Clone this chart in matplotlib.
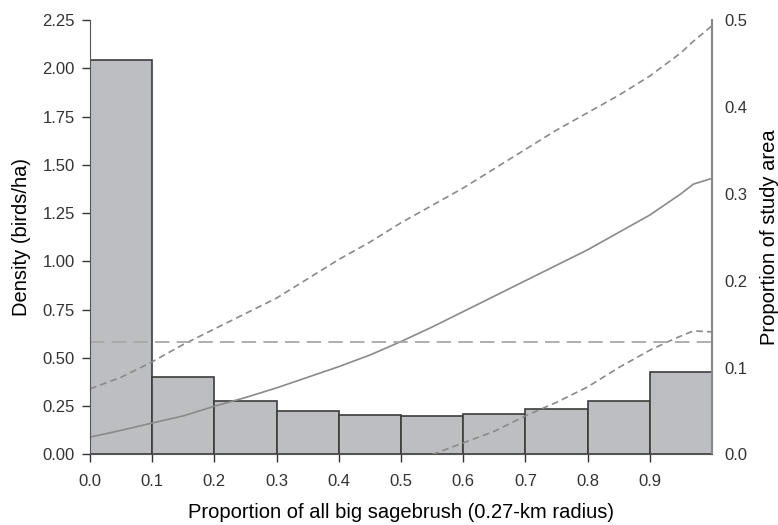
import matplotlib
matplotlib.use("Agg")
import matplotlib.pyplot as plt

plt.rcParams['font.family'] = ['Liberation Sans', 'DejaVu Sans']

# histogram of study area (right axis)
bin_edges = [0.0, 0.1, 0.2, 0.3, 0.4, 0.5, 0.6, 0.7, 0.8, 0.9]
area_prop = [0.454, 0.089, 0.0616, 0.0502, 0.0456, 0.0444, 0.0467, 0.0524, 0.0616, 0.0948]

# density curves (left axis)
x_curve = [0.0, 0.05, 0.1, 0.15, 0.2, 0.25, 0.3, 0.35, 0.4, 0.45, 0.5,
           0.55, 0.6, 0.65, 0.7, 0.75, 0.8, 0.85, 0.9, 0.95, 0.97, 1.0]
density = [0.09, 0.125, 0.163, 0.20, 0.25, 0.295, 0.345, 0.40, 0.455, 0.515, 0.585,
           0.66, 0.74, 0.82, 0.90, 0.98, 1.06, 1.15, 1.24, 1.35, 1.40, 1.43]
upper_ci = [0.34, 0.40, 0.48, 0.57, 0.65, 0.73, 0.81, 0.91, 1.01, 1.10, 1.20,
            1.29, 1.38, 1.48, 1.58, 1.68, 1.77, 1.86, 1.96, 2.08, 2.14, 2.22]
x_lower = [0.55, 0.6, 0.65, 0.7, 0.75, 0.8, 0.85, 0.9, 0.94, 0.97, 1.0]
lower_ci = [0.0, 0.06, 0.12, 0.20, 0.27, 0.35, 0.45, 0.54, 0.60, 0.64, 0.635]
mean_density = 0.58

fig = plt.figure(figsize=(7.78, 5.25), dpi=100)
ax = fig.add_axes([0.1157, 0.1343, 0.7995, 0.8276])
ax2 = ax.twinx()

ax2.bar(bin_edges, area_prop, width=0.1, align='edge', color='#bdbec2',
        edgecolor='#3c3c3c', linewidth=1.2)
ax2.set_ylim(0, 0.5)
ax2.set_yticks([0.0, 0.1, 0.2, 0.3, 0.4, 0.5])
ax2.set_yticklabels(['0.0', '0.1', '0.2', '0.3', '0.4', '0.5'])
ax2.set_ylabel('Proportion of study area', fontsize=14.5, labelpad=9)

ax.set_zorder(ax2.get_zorder() + 1)
ax.patch.set_visible(False)
ax.plot(x_curve, density, color='#8a8a8a', lw=1.2)
ax.plot(x_curve, upper_ci, color='#8a8a8a', lw=1.2, ls=(0, (4, 2.5)))
ax.plot(x_lower, lower_ci, color='#8a8a8a', lw=1.2, ls=(0, (4, 2.5)))
ax.axhline(mean_density, color='#a8a8a8', lw=1.3, ls=(0, (8, 4)))

ax.set_xlim(0, 1.0)
ax.set_ylim(0, 2.25)
ax.set_xticks([0.0, 0.1, 0.2, 0.3, 0.4, 0.5, 0.6, 0.7, 0.8, 0.9])
ax.set_xticklabels(['0.0', '0.1', '0.2', '0.3', '0.4', '0.5', '0.6', '0.7', '0.8', '0.9'])
ax.set_yticks([0.0, 0.25, 0.5, 0.75, 1.0, 1.25, 1.5, 1.75, 2.0, 2.25])
ax.set_yticklabels(['0.00', '0.25', '0.50', '0.75', '1.00', '1.25', '1.50', '1.75', '2.00', '2.25'])
ax.set_xlabel('Proportion of all big sagebrush (0.27-km radius)', fontsize=14.5, labelpad=10)
ax.set_ylabel('Density (birds/ha)', fontsize=14.5, labelpad=8)

for a in (ax, ax2):
    a.spines['top'].set_visible(False)
    a.tick_params(labelsize=12, colors='#333333', length=6, width=1)
ax.tick_params(axis='x', pad=8)
ax.tick_params(axis='y', pad=5)
ax.spines['right'].set_visible(False)
ax.spines['left'].set_color('#555555')
ax.spines['bottom'].set_color('#555555')
ax2.spines['left'].set_visible(False)
ax2.spines['bottom'].set_visible(False)
ax2.spines['right'].set_color('#888888')
ax2.spines['right'].set_linewidth(1.5)
ax2.tick_params(axis='y', length=0, pad=9)

fig.savefig('out.png', dpi=100)
